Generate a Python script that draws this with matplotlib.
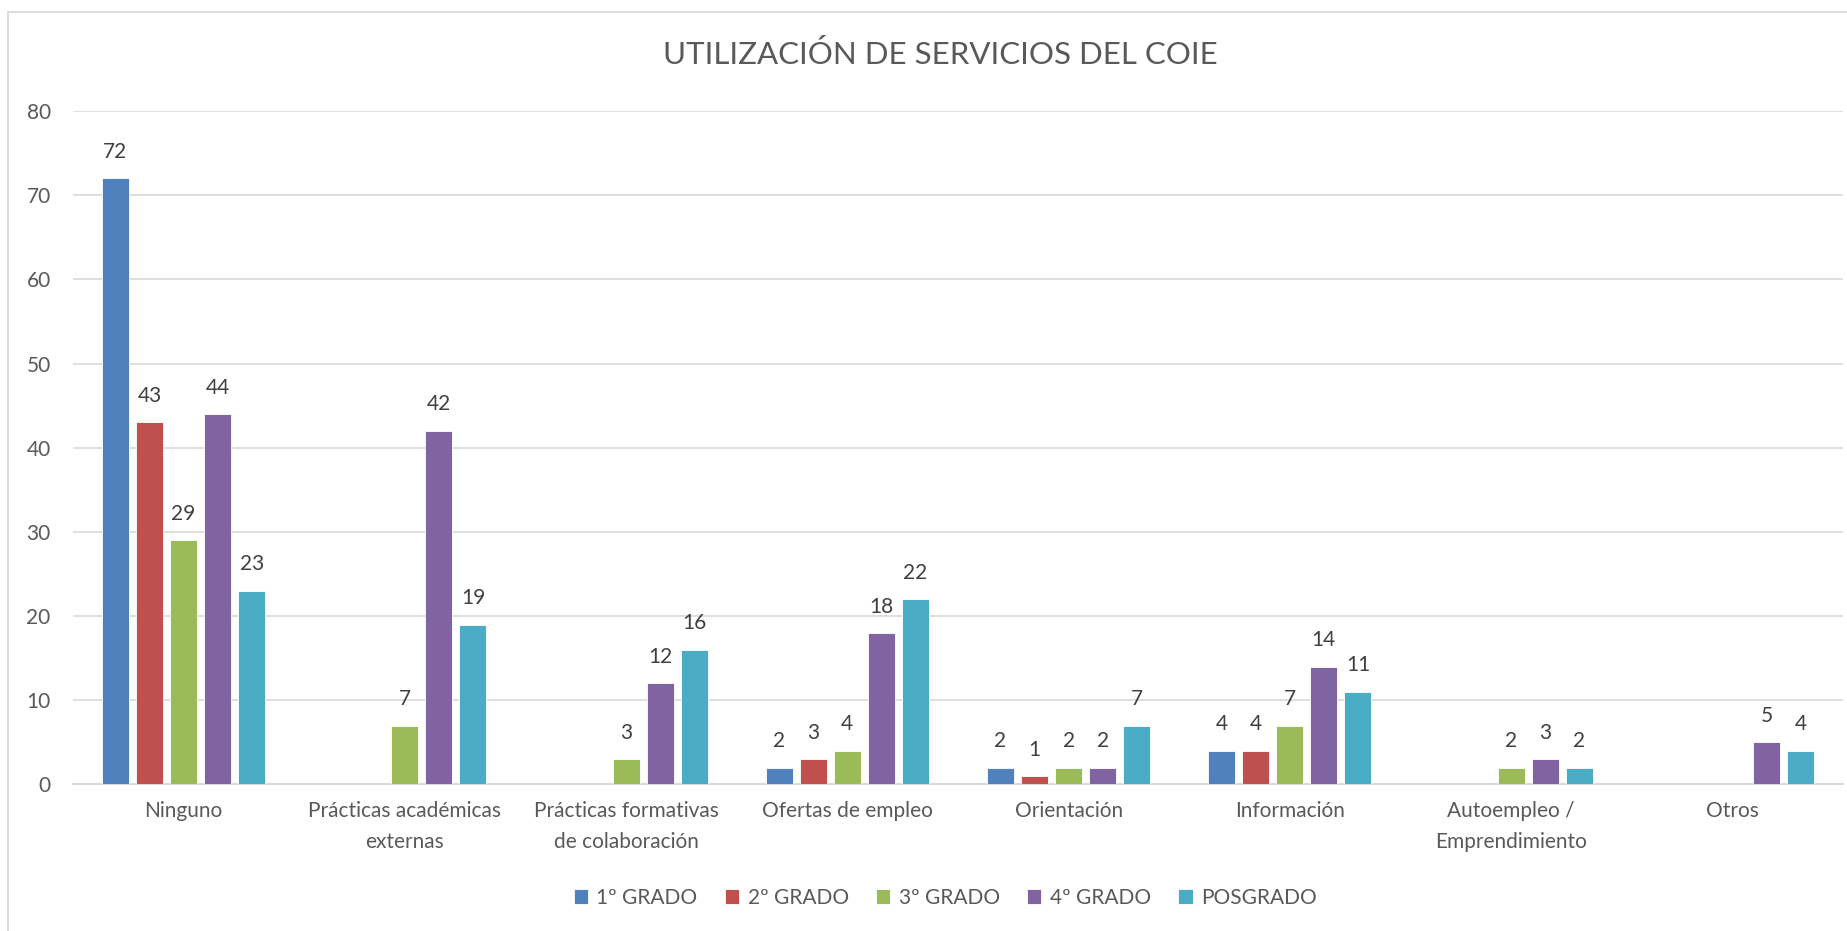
import numpy as np
import matplotlib.pyplot as plt
from matplotlib.patches import Rectangle

categories = ["Ninguno", "Prácticas académicas\nexternas", "Prácticas formativas\nde colaboración",
              "Ofertas de empleo", "Orientación", "Información",
              "Autoempleo /\nEmprendimiento", "Otros"]
series_names = ["1º GRADO", "2º GRADO", "3º GRADO", "4º GRADO", "POSGRADO"]
grado1 = [72, None, None, 2, 2, 4, None, None]
grado2 = [43, None, None, 3, 1, 4, None, None]
grado3 = [29, 7, 3, 4, 2, 7, 2, None]
grado4 = [44, 42, 12, 18, 2, 14, 3, 5]
posgrado = [23, 19, 16, 22, 7, 11, 2, 4]
colors = ["#4F81BD", "#C0504D", "#9BBB59", "#8064A2", "#4BACC6"]

plt.rcParams['font.family'] = ['Lato', 'DejaVu Sans']

fig = plt.figure(figsize=(18.47, 9.31), dpi=100)
ax = fig.add_axes([0.0395, 0.1574, 0.9583, 0.7234])

# chart border
fig.patches.append(Rectangle((8 / 1847, -0.05), 1.1, 1 - 12 / 931 + 0.05, transform=fig.transFigure,
                             fill=False, edgecolor="#D9D9D9", linewidth=1.3))

x = np.arange(len(categories))
width = 0.122
step = 0.154
all_series = [grado1, grado2, grado3, grado4, posgrado]
for i, (name, vals, col) in enumerate(zip(series_names, all_series, colors)):
    v = np.array([np.nan if a is None else a for a in vals], dtype=float)
    pos = x + (i - 2) * step
    ax.bar(pos, np.nan_to_num(v), width, color=col, label=name,
           edgecolor="white", linewidth=0.6, zorder=3)
    for p, val in zip(pos, v):
        if np.isnan(val):
            continue
        ax.annotate(str(int(val)), (p, val), xytext=(0, 19), textcoords="offset points",
                    ha="center", va="center", fontsize=15, color="#404040")

ax.set_xlim(-0.5, len(categories) - 0.5)
ax.set_ylim(0, 80)
ax.set_yticks(range(0, 81, 10))
ax.set_xticks(x)
ax.set_xticklabels(categories, fontsize=15, color="#595959", linespacing=1.7)
ax.tick_params(axis="y", length=0, pad=16, labelsize=15, labelcolor="#595959")
ax.tick_params(axis="x", length=0, pad=12)
ax.grid(axis="y", color="#D9D9D9", linewidth=1.2, zorder=0)
for s in ["top", "right", "left"]:
    ax.spines[s].set_visible(False)
ax.spines["bottom"].set_color("#D9D9D9")
ax.spines["bottom"].set_linewidth(1.4)

fig.text(0.509, 0.941, "UTILIZACIÓN DE SERVICIOS DEL COIE", ha="center", va="center",
         fontsize=22.5, color="#595959")

fig.legend(loc="center", bbox_to_anchor=(0.5117, 0.0355), ncol=5, frameon=False,
           fontsize=15, labelcolor="#595959", handlelength=0.7, handleheight=0.7,
           handletextpad=0.4, columnspacing=1.3)

fig.savefig("out.png", dpi=100)
